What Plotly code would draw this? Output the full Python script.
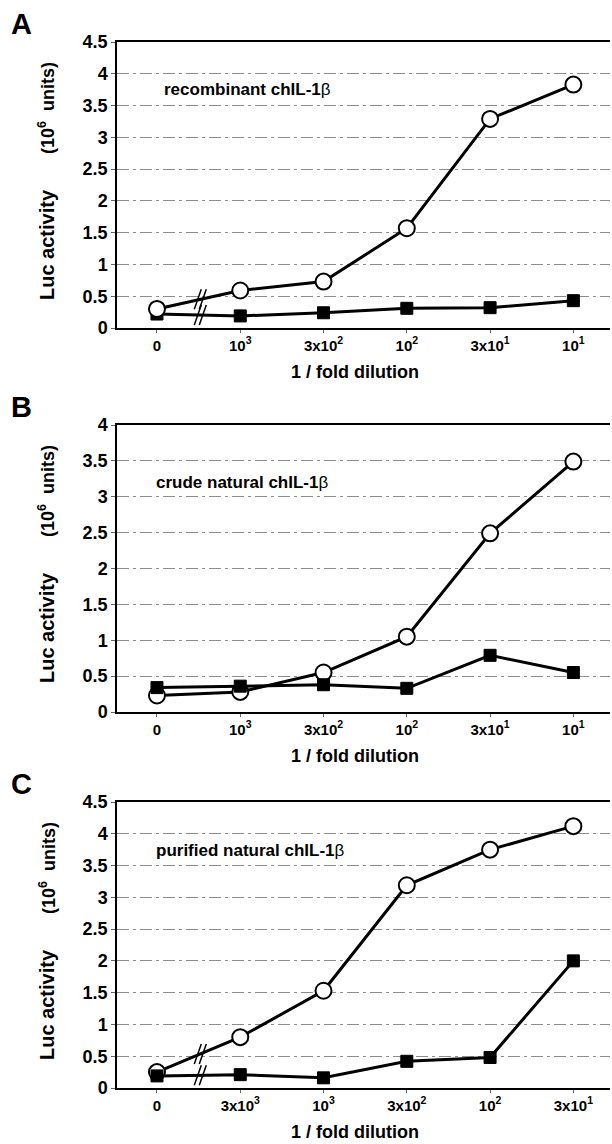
import plotly.graph_objects as go

W, H = 612, 1144

# ---- data ----
ticks_AB = ["0", "10<sup>3</sup>", "3x10<sup>2</sup>", "10<sup>2</sup>", "3x10<sup>1</sup>", "10<sup>1</sup>"]
ticks_C = ["0", "3x10<sup>3</sup>", "10<sup>3</sup>", "3x10<sup>2</sup>", "10<sup>2</sup>", "3x10<sup>1</sup>"]
positions = [0, 1, 2, 3, 4, 5]

A_open = [0.30, 0.59, 0.73, 1.57, 3.29, 3.83]
A_filled = [0.22, 0.19, 0.24, 0.31, 0.32, 0.43]
B_open = [0.23, 0.28, 0.55, 1.05, 2.49, 3.49]
B_filled = [0.34, 0.36, 0.38, 0.33, 0.79, 0.55]
C_open = [0.25, 0.80, 1.53, 3.19, 3.75, 4.12]
C_filled = [0.19, 0.21, 0.16, 0.42, 0.48, 2.00]

labels = ["recombinant chIL-1", "crude natural chIL-1", "purified natural chIL-1"]
letters = ["A", "B", "C"]
ymax = [4.5, 4.0, 4.5]
has_break = [True, False, True]

# ---- layout geometry (pixels from top) ----
panels_px = [(42, 328), (425, 712), (802, 1088)]
x_left, x_right = 117, 610

FONT = "Arial, Liberation Sans, sans-serif"

fig = go.Figure()

def py(px):
    return 1 - px / H

series = [(A_open, A_filled), (B_open, B_filled), (C_open, C_filled)]
tick_sets = [ticks_AB, ticks_AB, ticks_C]

def ann(text, xpx, ypx, size, angle=0, xanchor="center"):
    fig.add_annotation(text=text, xref="paper", yref="paper",
                       x=xpx / W, y=py(ypx), xanchor=xanchor, yanchor="middle",
                       textangle=angle, showarrow=False,
                       font=dict(family=FONT, size=size, color="black"))

for i in range(3):
    ax = "" if i == 0 else str(i + 1)
    xref, yref = "x" + ax, "y" + ax
    op, fl = series[i]
    open_tr = go.Scatter(x=positions, y=op, mode="lines+markers", xaxis=xref, yaxis=yref,
                         line=dict(color="black", width=3),
                         marker=dict(symbol="circle", size=16, color="white",
                                     line=dict(color="black", width=2)),
                         showlegend=False, cliponaxis=False)
    fill_tr = go.Scatter(x=positions, y=fl, mode="lines+markers", xaxis=xref, yaxis=yref,
                         line=dict(color="black", width=3),
                         marker=dict(symbol="square", size=12, color="black",
                                     line=dict(color="black", width=1)),
                         showlegend=False, cliponaxis=False)
    if i == 0:
        fig.add_trace(fill_tr); fig.add_trace(open_tr)
    else:
        fig.add_trace(open_tr); fig.add_trace(fill_tr)

    top, bot = panels_px[i]
    fig.layout["xaxis" + ax] = dict(
        domain=[x_left / W, x_right / W], anchor=yref, range=[-0.48, 5.44],
        tickmode="array", tickvals=positions, ticktext=tick_sets[i],
        tickfont=dict(family=FONT, size=15, color="black", weight="bold"),
        showline=True, linecolor="black", linewidth=1.5, mirror=True,
        ticks="outside", ticklen=3, tickcolor="#666", tickwidth=1,
        showgrid=False, zeroline=False, fixedrange=True, automargin=False)
    dtick_vals = [k * 0.5 for k in range(int(ymax[i] / 0.5) + 1)]
    fig.layout["yaxis" + ax] = dict(
        domain=[py(bot), py(top)], anchor=xref, range=[0, ymax[i]],
        tickmode="array", tickvals=dtick_vals,
        ticktext=[("%g" % v) for v in dtick_vals],
        tickfont=dict(family=FONT, size=18, color="black", weight="bold"),
        showline=True, linecolor="black", linewidth=1.5,
        ticks="outside", ticklen=4, tickcolor="#666", tickwidth=1,
        showgrid=True, gridcolor="#8c8c8c", gridwidth=1, griddash="12px,4px,3px,4px",
        zeroline=False, fixedrange=True, automargin=False)

    # break marks
    if has_break[i]:
        t = 0.52
        for vals in (op, fl):
            bx = positions[0] + t * (positions[1] - positions[0])
            by = vals[0] + t * (vals[1] - vals[0])
            for dx in (-2.5, 2.5):
                fig.add_shape(type="line", xref=xref, yref=yref,
                              xsizemode="pixel", ysizemode="pixel",
                              xanchor=bx, yanchor=by,
                              x0=dx - 3.5, x1=dx + 3.5, y0=-10, y1=10,
                              line=dict(color="black", width=1.5))

    # panel letter
    ann("<b>%s</b>" % letters[i], 21, top - 18, 29)
    # y title (two parts)
    ann("<b>Luc activity</b>", 47, top + 203, 20, angle=-90)
    ann("<b>(10<sup>6</sup>  units)</b>", 47, top + 66, 18, angle=-90)
    # x title
    ann("<b>1 / fold dilution</b>", 355, bot + 44, 18)
    # panel label
    lbl_y = [90, 482, 850][i]
    lbl_x = [162, 154, 154][i]
    ann("<b>%s</b>β" % labels[i], lbl_x, lbl_y, 17, xanchor="left")

fig.update_layout(width=W, height=H, margin=dict(l=0, r=0, t=0, b=0),
                  paper_bgcolor="white", plot_bgcolor="white")

fig.write_html("out.html", config={"displayModeBar": False},
               post_script="document.body.style.margin='0';")
